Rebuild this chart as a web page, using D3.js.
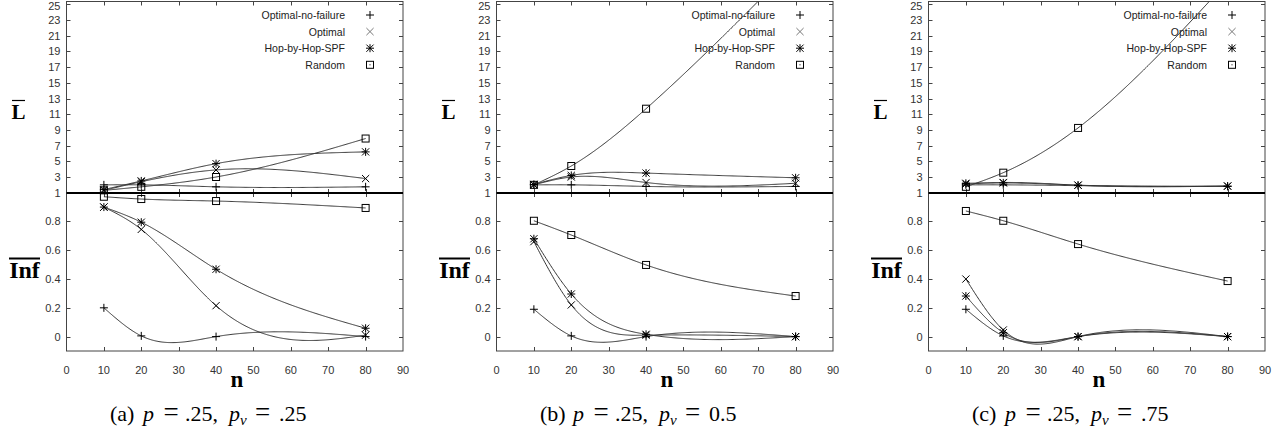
<!DOCTYPE html>
<html><head><meta charset="utf-8">
<script src="https://cdn.jsdelivr.net/npm/d3@7"></script>
<style>html,body{margin:0;padding:0;background:#fff;}svg{display:block;}</style>
</head><body>
<svg id="chart" width="1286" height="433"></svg>
<script>
// ---------- data ----------
const nValues = [10, 20, 40, 80];
const seriesNames = ["Optimal-no-failure", "Optimal", "Hop-by-Hop-SPF", "Random"];
const seriesMarkers = ["plus", "cross", "star", "box"];
const xTicks = [0, 10, 20, 30, 40, 50, 60, 70, 80, 90];
const lTicks = [1, 3, 5, 7, 9, 11, 13, 15, 17, 19, 21, 23, 25];
const infTicks = [0, 0.2, 0.4, 0.6, 0.8, 1];
const infTickLabels = ["0", "0.2", "0.4", "0.6", "0.8", "1"];
const captionLetters = ["(a)", "(b)", "(c)"];
const captionPv = [".25", "0.5", ".75"];

// panel (a) p=.25, pv=.25  — rows follow seriesNames
const panelA_L   = [[2.0, 2.0, 1.75, 1.75], [1.3, 2.4, 3.9, 2.8], [1.4, 2.5, 4.7, 6.2], [1.3, 1.75, 3.0, 7.9]];
const panelA_Inf = [[0.2, 0.005, 0, 0], [0.9, 0.745, 0.215, 0.01], [0.9, 0.795, 0.468, 0.058], [0.972, 0.956, 0.942, 0.894]];
// panel (b) p=.25, pv=0.5
const panelB_L   = [[2.0, 2.0, 1.8, 1.8], [2.0, 3.0, 2.3, 2.2], [2.05, 3.2, 3.5, 2.9], [2.0, 4.4, 11.7, 30.2]];
const panelB_Inf = [[0.19, 0.005, 0, 0], [0.66, 0.22, 0.01, 0], [0.68, 0.296, 0.016, 0], [0.805, 0.706, 0.498, 0.282]];
// panel (c) p=.25, pv=.75
const panelC_L   = [[2.0, 2.0, 1.9, 1.8], [2.1, 2.3, 1.95, 1.85], [2.2, 2.25, 1.96, 1.84], [1.75, 3.55, 9.25, 27.9]];
const panelC_Inf = [[0.19, 0.005, 0, 0], [0.4, 0.046, 0, 0], [0.282, 0.027, 0, 0], [0.873, 0.805, 0.643, 0.386]];

const panelsL = [panelA_L, panelB_L, panelC_L];
const panelsInf = [panelA_Inf, panelB_Inf, panelC_Inf];

// ---------- layout ----------
const svg = d3.select("#chart");
const panelX0 = [66.5, 496.5, 928.5];
const plotW = 336.5;
const yTop = 1.5, ySep = 193, yBottom = 351;
const TICKF = "'Liberation Sans', Arial, sans-serif";
const SERIF = "'Liberation Serif', 'Times New Roman', serif";
const lineColor = "#333";

// natural cubic spline y(x) (gnuplot "smooth csplines")
function naturalSpline(xs, ys) {
  const n = xs.length, h = [];
  for (let i = 0; i < n - 1; i++) h.push(xs[i + 1] - xs[i]);
  const a = [], b = [], c = [], d = [];
  for (let i = 1; i < n - 1; i++) {
    a.push(h[i - 1]); b.push(2 * (h[i - 1] + h[i])); c.push(h[i]);
    d.push(6 * ((ys[i + 1] - ys[i]) / h[i] - (ys[i] - ys[i - 1]) / h[i - 1]));
  }
  const m = b.length;
  for (let i = 1; i < m; i++) { const w = a[i] / b[i - 1]; b[i] -= w * c[i - 1]; d[i] -= w * d[i - 1]; }
  const Mi = new Array(m);
  Mi[m - 1] = d[m - 1] / b[m - 1];
  for (let i = m - 2; i >= 0; i--) Mi[i] = (d[i] - c[i] * Mi[i + 1]) / b[i];
  const M = [0, ...Mi, 0];
  return x => {
    let i = 0;
    while (i < n - 2 && x > xs[i + 1]) i++;
    const hi = h[i], A = xs[i + 1] - x, B = x - xs[i];
    return M[i] * A * A * A / (6 * hi) + M[i + 1] * B * B * B / (6 * hi)
      + (ys[i] / hi - M[i] * hi / 6) * A + (ys[i + 1] / hi - M[i + 1] * hi / 6) * B;
  };
}

function drawMarker(g, type, cx, cy, color) {
  const s = 4, col = color || "#000";
  const ln = (x1, y1, x2, y2) => g.append("line").attr("x1", x1).attr("y1", y1).attr("x2", x2).attr("y2", y2)
    .attr("stroke", col).attr("stroke-width", 1);
  if (type === "plus" || type === "star") { ln(cx - s, cy, cx + s, cy); ln(cx, cy - s, cx, cy + s); }
  if (type === "cross" || type === "star") { const t = s * 0.9; ln(cx - t, cy - t, cx + t, cy + t); ln(cx - t, cy + t, cx + t, cy - t); }
  if (type === "box") {
    g.append("rect").attr("x", cx - 3.5).attr("y", cy - 3.5).attr("width", 7).attr("height", 7)
      .attr("fill", "none").attr("stroke", col).attr("stroke-width", 1);
  }
}

const defs = svg.append("defs");

panelX0.forEach((x0, p) => {
  const x = d3.scaleLinear().domain([0, 90]).range([x0, x0 + plotW]);
  const yL = d3.scaleLinear().domain([1, 25]).range([ySep - 0.3, 4.3]);
  const yI = d3.scaleLinear().domain([-0.1, 1]).range([yBottom, ySep - 0.3]);
  const g = svg.append("g");

  defs.append("clipPath").attr("id", "cu" + p).append("rect")
    .attr("x", x0).attr("y", yTop).attr("width", plotW).attr("height", ySep - yTop);
  defs.append("clipPath").attr("id", "cl" + p).append("rect")
    .attr("x", x0).attr("y", ySep).attr("width", plotW).attr("height", yBottom - ySep);

  // frame
  g.append("rect").attr("x", x0).attr("y", yTop).attr("width", plotW).attr("height", yBottom - yTop)
    .attr("fill", "none").attr("stroke", "#444").attr("stroke-width", 1);

  // x ticks (inward) on top border, separator and bottom border
  xTicks.slice(1, -1).forEach(t => {
    const xp = Math.round(x(t)) + 0.5;
    g.append("line").attr("x1", xp).attr("x2", xp).attr("y1", yTop).attr("y2", yTop + 4).attr("stroke", "#444");
    g.append("line").attr("x1", xp).attr("x2", xp).attr("y1", ySep - 4).attr("y2", ySep + 4).attr("stroke", "#444");
    g.append("line").attr("x1", xp).attr("x2", xp).attr("y1", yBottom - 4).attr("y2", yBottom).attr("stroke", "#444");
  });
  // x tick labels
  g.append("g").selectAll("text").data(xTicks).join("text")
    .attr("x", d => x(d)).attr("y", 374).attr("text-anchor", "middle")
    .attr("font-family", TICKF).attr("font-size", 11).attr("fill", "#333").text(d => d);

  // y ticks upper
  lTicks.forEach(t => {
    const yp = Math.round(yL(t)) + 0.5;
    if (t !== 1) {
      g.append("line").attr("x1", x0).attr("x2", x0 + 4).attr("y1", yp).attr("y2", yp).attr("stroke", "#444");
      g.append("line").attr("x1", x0 + plotW - 4).attr("x2", x0 + plotW).attr("y1", yp).attr("y2", yp).attr("stroke", "#444");
    }
    g.append("text").attr("x", x0 - 6).attr("y", Math.max(yL(t) + 4, 10)).attr("text-anchor", "end")
      .attr("font-family", TICKF).attr("font-size", 11).attr("fill", "#333").text(t);
  });
  // y ticks lower
  infTicks.forEach((t, i) => {
    const yp = Math.round(yI(t)) + 0.5;
    if (t !== 1) {
      g.append("line").attr("x1", x0).attr("x2", x0 + 4).attr("y1", yp).attr("y2", yp).attr("stroke", "#444");
      g.append("line").attr("x1", x0 + plotW - 4).attr("x2", x0 + plotW).attr("y1", yp).attr("y2", yp).attr("stroke", "#444");
      g.append("text").attr("x", x0 - 6).attr("y", yI(t) + 4).attr("text-anchor", "end")
        .attr("font-family", TICKF).attr("font-size", 11).attr("fill", "#333").text(infTickLabels[i]);
    }
  });

  // curves
  const samples = d3.range(10, 80.001, 0.25);
  const line = d3.line().x(d => x(d[0])).y(d => d[1]);
  const drawSet = (data, yScale, clip) => {
    const cg = g.append("g").attr("clip-path", "url(#" + clip + ")");
    data.forEach(vals => {
      const f = naturalSpline(nValues, vals);
      cg.append("path").attr("d", line(samples.map(s => [s, yScale(f(s))])))
        .attr("fill", "none").attr("stroke", lineColor).attr("stroke-width", 1);
    });
  };
  drawSet(panelsL[p], yL, "cu" + p);
  drawSet(panelsInf[p], yI, "cl" + p);

  // markers
  [[panelsL[p], yL], [panelsInf[p], yI]].forEach(([data, ys]) => {
    data.forEach((vals, si) => {
      vals.forEach((v, k) => {
        const yy = ys(v);
        if (yy >= 0 && yy <= 433) drawMarker(g, seriesMarkers[si], x(nValues[k]), yy);
      });
    });
  });

  // separator
  g.append("line").attr("x1", x0).attr("x2", x0 + plotW).attr("y1", ySep).attr("y2", ySep)
    .attr("stroke", "#000").attr("stroke-width", 2);

  // legend
  seriesNames.forEach((name, i) => {
    const cy = 15 + 16.6 * i;
    g.append("text").attr("x", x0 + 278.5).attr("y", cy + 4).attr("text-anchor", "end")
      .attr("font-family", TICKF).attr("font-size", 10.5).attr("fill", "#222").text(name);
    drawMarker(g, seriesMarkers[i], x0 + 303.5, cy, i === 1 ? "#777" : "#000");
    if (seriesMarkers[i] === "box") g.append("rect").attr("x", x0 + 303).attr("y", cy - 0.5).attr("width", 1).attr("height", 1).attr("fill", "#000");
  });

  // axis labels
  const lx = x0 - 48;
  g.append("text").attr("x", lx).attr("y", 119).attr("text-anchor", "middle")
    .attr("font-family", SERIF).attr("font-weight", "bold").attr("font-size", 21).attr("fill", "#000").text("L");
  g.append("line").attr("x1", lx - 6.5).attr("x2", lx + 6.5).attr("y1", 100.5).attr("y2", 100.5).attr("stroke", "#000").attr("stroke-width", 1.2);
  const ix = x0 - 42;
  g.append("text").attr("x", ix).attr("y", 277.5).attr("text-anchor", "middle")
    .attr("font-family", SERIF).attr("font-weight", "bold").attr("font-size", 24).attr("fill", "#000").text("Inf");
  g.append("line").attr("x1", ix - 15.5).attr("x2", ix + 15.5).attr("y1", 258.5).attr("y2", 258.5).attr("stroke", "#000").attr("stroke-width", 2);
  g.append("text").attr("x", x0 + 170.5).attr("y", 386.7).attr("text-anchor", "middle")
    .attr("font-family", SERIF).attr("font-weight", "bold").attr("font-size", 23).attr("fill", "#000").text("n");

  // caption (math-style spacing)
  const cx0 = x0 + 43.5, cy = 420.5;
  const cap = g.append("text").attr("y", cy).attr("font-family", SERIF).attr("font-size", 22).attr("fill", "#000");
  cap.append("tspan").attr("x", cx0).text(captionLetters[p]);
  cap.append("tspan").attr("x", cx0 + 33).attr("font-style", "italic").text("p");
  cap.append("tspan").attr("x", cx0 + 53.5).attr("font-size", 27).text("=");
  cap.append("tspan").attr("x", cx0 + 75).attr("font-size", 22).text(".25,");
  cap.append("tspan").attr("x", cx0 + 119).attr("font-style", "italic").text("p");
  cap.append("tspan").attr("x", cx0 + 130).attr("y", cy + 4).attr("font-style", "italic").attr("font-size", 15).text("v");
  cap.append("tspan").attr("x", cx0 + 145).attr("y", cy).attr("font-size", 27).text("=");
  cap.append("tspan").attr("x", cx0 + 169).attr("font-size", 22).text(captionPv[p]);
});
</script>
</body></html>
